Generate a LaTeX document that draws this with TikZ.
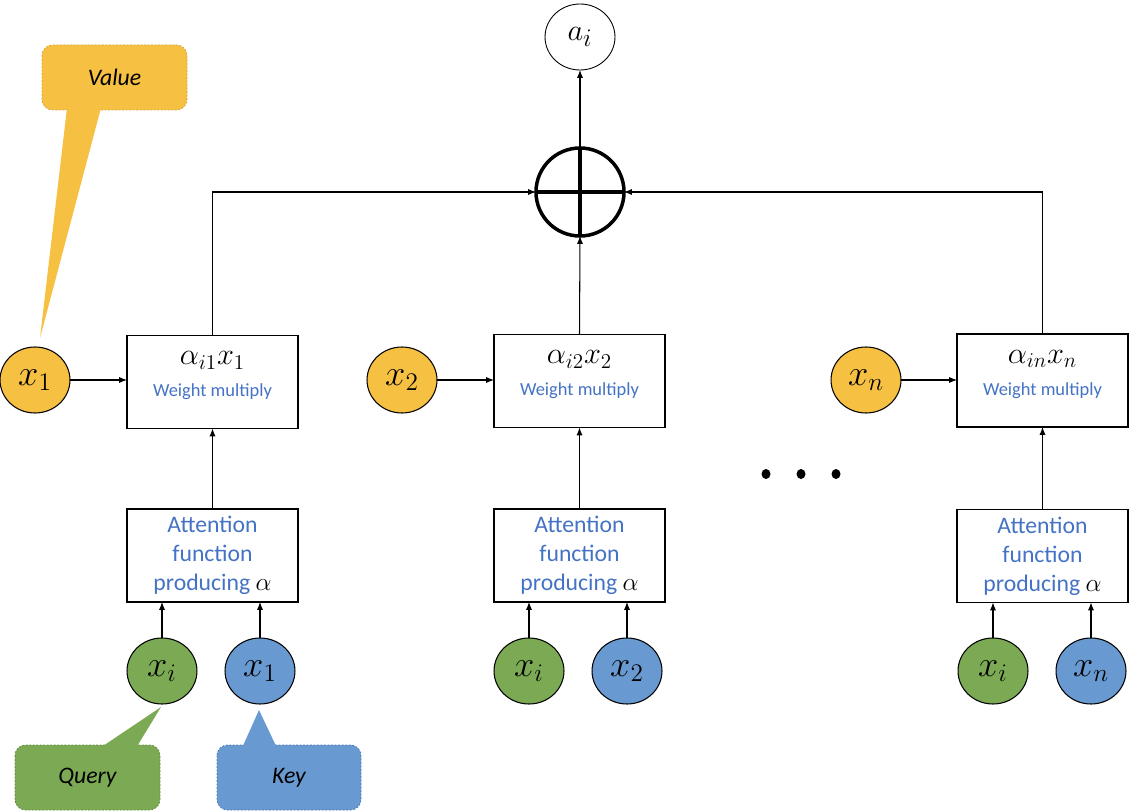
\documentclass[tikz,border=0pt]{standalone}
\usepackage{fontspec}
\setmainfont{Carlito}
\usetikzlibrary{arrows.meta}
\definecolor{vorange}{RGB}{246,192,67}
\definecolor{qgreen}{RGB}{124,170,84}
\definecolor{kblue}{RGB}{104,153,208}
\definecolor{tblue}{RGB}{68,114,196}
\definecolor{vorangeD}{RGB}{215,165,50}
\definecolor{qgreenD}{RGB}{95,140,65}
\definecolor{kblueD}{RGB}{75,120,180}
\begin{document}
\begin{tikzpicture}[x=0.02cm,y=-0.02cm,
  every node/.style={inner sep=0pt, outer sep=0pt},
  arr/.style={-{Latex[length=4.5pt,width=3.5pt]}, line width=0.6pt},
  wbox/.style={draw, line width=0.6pt, minimum width=171*0.02cm, minimum height=93*0.02cm},
  abox/.style={draw, line width=0.6pt, minimum width=171*0.02cm, minimum height=93*0.02cm, align=center,
     text=tblue, font=\fontsize{13.5}{16.5}\selectfont},
  callout/.style={rounded corners=6pt, dashed, dash pattern=on 1pt off 1pt, line width=0.5pt},
  ctext/.style={font=\fontsize{13.5}{16}\selectfont\itshape},
  wtop/.style={font=\fontsize{18}{20}\selectfont},
  wsub/.style={font=\fontsize{10.5}{12}\selectfont, text=tblue},
  elab/.style={font=\fontsize{20}{24}\selectfont}
]
\useasboundingbox (0,0) rectangle (1129,811);
% output
\node[draw, shape=circle, line width=0.5pt, minimum size=66*0.02cm, xscale=1.06] (ai) at (580,37) {};
\node[font=\fontsize{19}{21}\selectfont] (ail) at (580,37) {$a_i$};
% sum
\node[draw, shape=circle, line width=2pt, minimum size=88*0.02cm] (sum) at (580,192) {};
\draw[line width=2pt] (sum.north) -- (sum.south) (sum.west) -- (sum.east);
\draw[arr] (sum.north) -- (ai.south);

% weight boxes
\node[wbox] (w1) at (212.5,382) {};
\node[wbox] (w2) at (579.5,381) {};
\node[wbox] (wn) at (1042.5,380.5) {};
\foreach \b/\t in {w1/{\alpha_{i1}x_1}, w2/{\alpha_{i2}x_2}, wn/{\alpha_{in}x_n}}{
  \node[wtop] (\b t) at ([yshift=-0.5cm]\b.north) {$\t$};
  \node[wsub] (\b s) at ([yshift=-1.13cm]\b.north) {Weight multiply};
}
% attention boxes
\node[abox] (a1) at (212.5,555.5) {Attention\\function\\producing \textcolor{black}{$\alpha$}};
\node[abox] (a2) at (579.5,555.5) {Attention\\function\\producing \textcolor{black}{$\alpha$}};
\node[abox] (an) at (1042.5,556) {Attention\\function\\producing \textcolor{black}{$\alpha$}};

% value ellipses
\foreach \n/\x/\t in {v1/35/x_1, v2/402/x_2, vn/866/x_n}{
  \node[draw, shape=circle, line width=0.6pt, fill=vorange, minimum size=66*0.02cm, xscale=1.06] (\n) at (\x,380) {};
  \node[elab] (\n l) at (\x,380) {$\t$};
}

% query / key
\foreach \n/\x/\c/\t in {q1/162/qgreen/x_i, k1/260/kblue/x_1, q2/529/qgreen/x_i, k2/627/kblue/x_2, qn/993/qgreen/x_i, kn/1091/kblue/x_n}{
  \node[draw, shape=circle, line width=0.6pt, fill=\c, minimum size=66*0.02cm, xscale=1.06] (\n) at (\x,671) {};
  \node[elab] (\n l) at (\x,671) {$\t$};
}

% connectors
\draw[arr] (v1) -- (w1.west |- v1);
\draw[arr] (v2) -- (w2.west |- v2);
\draw[arr] (vn) -- (wn.west |- vn);
\draw[arr] (a1.north) -- (w1.south);
\draw[arr] (a2.north) -- (w2.south);
\draw[arr] (an.north) -- (wn.south);
\draw[arr] (q1.north) -- (q1.north |- a1.south);
\draw[arr] (k1.north) -- (k1.north |- a1.south);
\draw[arr] (q2.north) -- (q2.north |- a2.south);
\draw[arr] (k2.north) -- (k2.north |- a2.south);
\draw[arr] (qn.north) -- (qn.north |- an.south);
\draw[arr] (kn.north) -- (kn.north |- an.south);
\draw[arr] (w1.north) |- (sum.west);
\draw[arr] (wn.north) |- (sum.east);
\draw[arr] (w2.north) -- (sum.south);

% dots
\fill (766,474) ellipse (4.5 and 5);
\fill (801,474) ellipse (4.5 and 5);
\fill (836,474) ellipse (4.5 and 5);

% Value callout
\draw[callout, fill=vorange, draw=vorangeD] (42,45) rectangle (187,110);
\fill[vorange] (67,108) -- (40,338) -- (101,108) -- cycle;
\node[ctext] (vlab) at (114.5,77.5) {Value};

% Query callout
\draw[callout, fill=qgreen, draw=qgreenD] (15,745) rectangle (160,810);
\fill[qgreen] (100,748) -- (161,707) -- (136,748) -- cycle;
\node[ctext] (qlab) at (87.5,777.5) {Query};

% Key callout
\draw[callout, fill=kblue, draw=kblueD] (217,745) rectangle (361,810);
\fill[kblue] (242,748) -- (259,710) -- (277,748) -- cycle;
\node[ctext] (klab) at (289,777.5) {Key};
\end{tikzpicture}
\end{document}
